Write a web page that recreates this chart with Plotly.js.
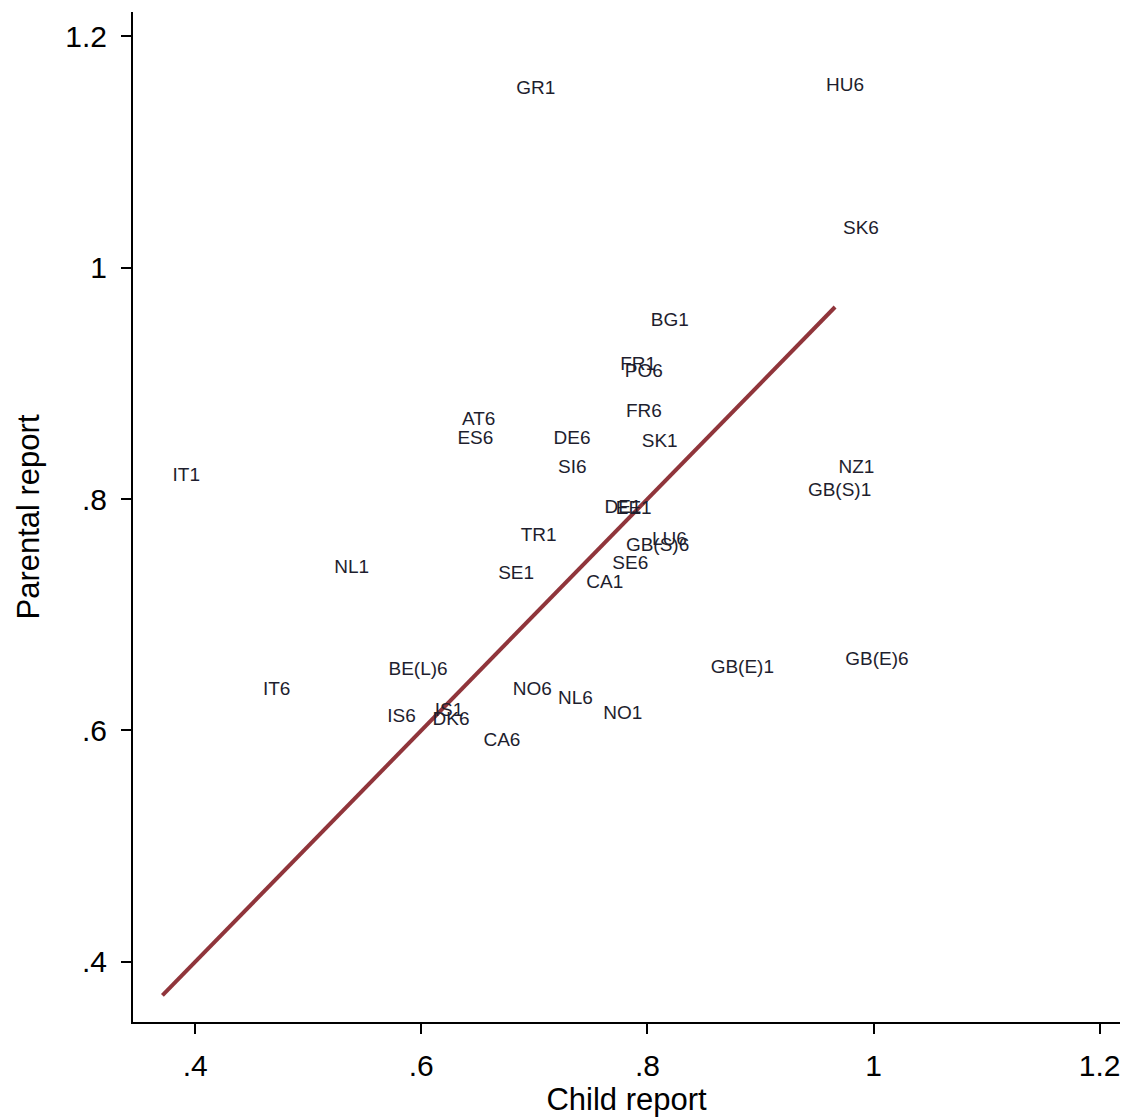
<!DOCTYPE html>
<html>
<head>
<meta charset="utf-8">
<script src="https://cdn.plot.ly/plotly-3.0.1.min.js"></script>
<style>html,body{margin:0;padding:0;background:#fff;}#chart{width:1127px;height:1117px;}</style>
</head>
<body>
<div id="chart"></div>
<script>
const labels = ["GR1","HU6","SK6","BG1","FR1","PO6","FR6","AT6","ES6","DE6","SK1","IT1","SI6","NZ1","GB(S)1","DE1","EE1","TR1","LU6","GB(S)6","NL1","SE6","SE1","CA1","BE(L)6","GB(E)1","GB(E)6","IT6","NO6","NL6","NO1","IS6","IS1","DK6","CA6"];
const childReport = [0.677,0.951,0.966,0.796,0.769,0.773,0.774,0.629,0.625,0.710,0.788,0.373,0.714,0.962,0.935,0.755,0.765,0.681,0.797,0.774,0.516,0.762,0.661,0.739,0.564,0.849,0.968,0.453,0.674,0.714,0.754,0.563,0.605,0.603,0.648];
const parentalReport = [1.154,1.157,1.033,0.954,0.916,0.910,0.875,0.868,0.852,0.852,0.849,0.820,0.827,0.827,0.807,0.792,0.791,0.768,0.764,0.759,0.740,0.744,0.735,0.727,0.652,0.654,0.661,0.635,0.635,0.627,0.614,0.611,0.617,0.609,0.591];
const tickVals = [0.4,0.6,0.8,1,1.2];
const tickText = [".4",".6",".8","1","1.2"];

const xMin = Math.min(...childReport), xMax = Math.max(...childReport);

const traces = [
  {
    type: "scatter", mode: "lines",
    x: [xMin - 0.002, xMax - 0.002], y: [xMin - 0.002, xMax - 0.002],
    line: {color: "#90353B", width: 4},
    hoverinfo: "skip", showlegend: false
  },
  {
    type: "scatter", mode: "markers+text",
    x: childReport, y: parentalReport, text: labels,
    textposition: "middle right",
    marker: {size: 11, opacity: 0},
    textfont: {family: "Liberation Sans, Arial, sans-serif", size: 19, color: "#1e1e2e"},
    showlegend: false, cliponaxis: false
  }
];

const axisCommon = {
  showgrid: false, zeroline: false, showline: true, linecolor: "#000", linewidth: 2,
  ticks: "outside", ticklen: 10, tickwidth: 2, tickcolor: "#000",
  tickvals: tickVals, ticktext: tickText,
  tickfont: {family: "Liberation Sans, Arial, sans-serif", size: 30, color: "#000"},
  mirror: false
};

const layout = {
  width: 1127, height: 1117,
  margin: {l: 133, r: 7, t: 12, b: 95},
  paper_bgcolor: "#fff", plot_bgcolor: "#fff",
  xaxis: Object.assign({}, axisCommon, {
    range: [0.345, 1.218],
    ticklabelstandoff: 6,
    title: {text: "Child report", font: {family: "Liberation Sans, Arial, sans-serif", size: 31, color: "#000"}, standoff: 4}
  }),
  yaxis: Object.assign({}, axisCommon, {
    range: [0.348, 1.221],
    ticklabelstandoff: 8,
    title: {text: "Parental report", font: {family: "Liberation Sans, Arial, sans-serif", size: 31, color: "#000"}, standoff: 16}
  }),
  showlegend: false
};

Plotly.newPlot("chart", traces, layout, {displayModeBar: false, staticPlot: true});
</script>
</body>
</html>
